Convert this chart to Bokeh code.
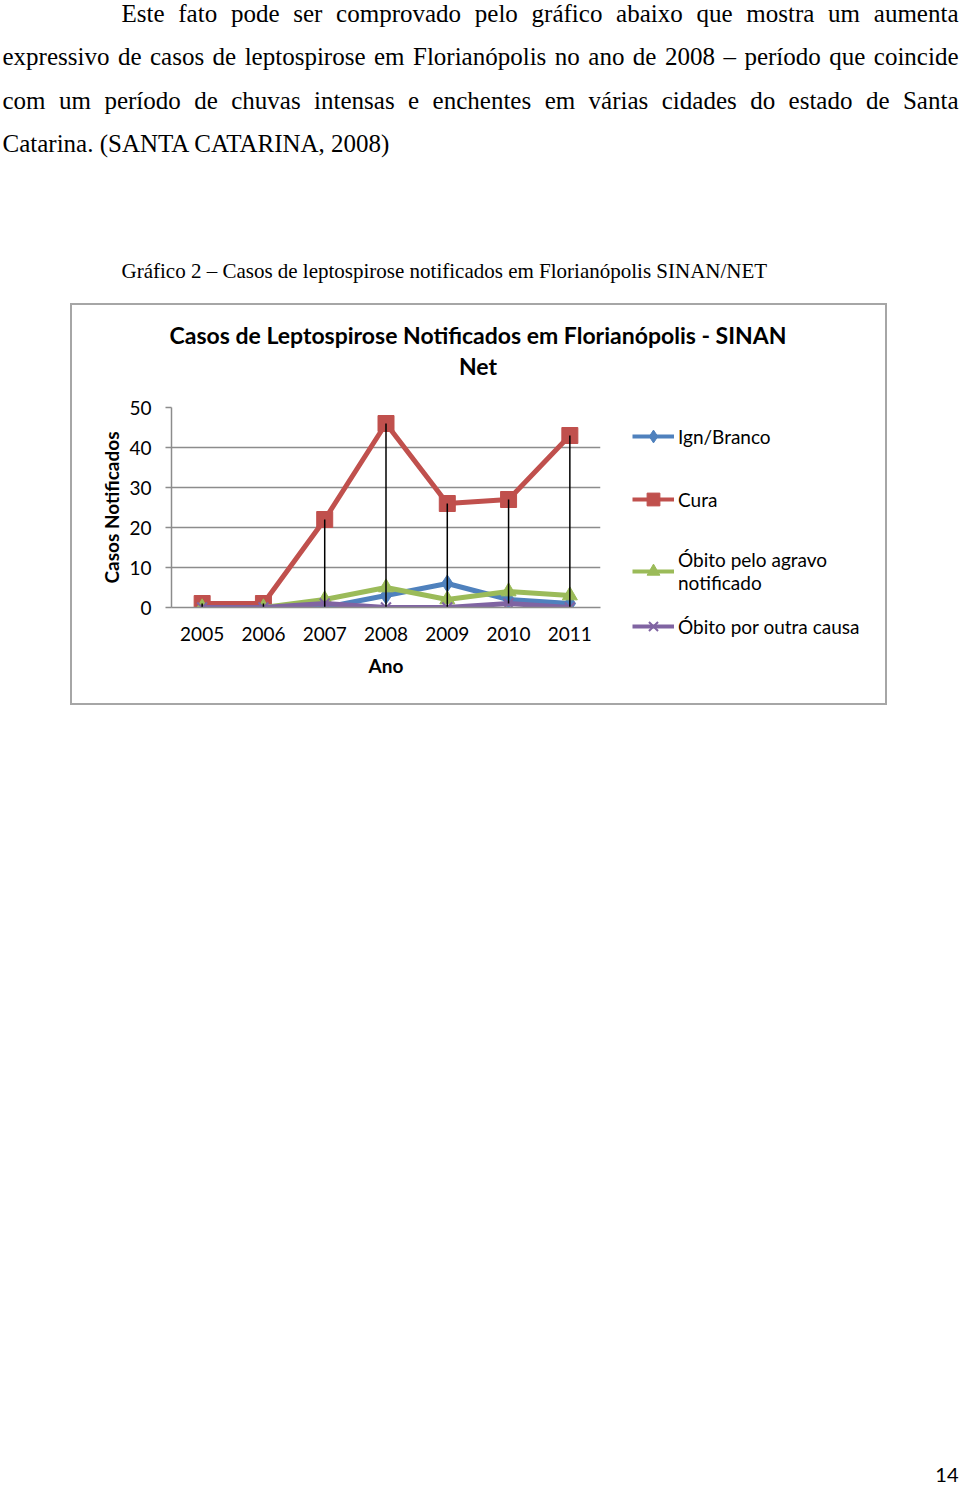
from bokeh.plotting import figure
from bokeh.models import Range1d, FactorRange, Legend, LegendItem, Spacer, FixedTicker
from bokeh.layouts import column, row
from bokeh.core.properties import value
from bokeh.embed import file_html
from bokeh.resources import INLINE

# ---------------- chart data ----------------
years = ["2005", "2006", "2007", "2008", "2009", "2010", "2011"]
ign_branco = [0, 0, 0, 3, 6, 2, 1]
cura = [1, 1, 22, 46, 26, 27, 43]
obito_agravo = [0, 0, 2, 5, 2, 4, 3]
obito_outra = [0, 0, 1, 0, 0, 1, 0]
series_names = ["Ign/Branco", "Cura", "Óbito pelo agravo\nnotificado", "Óbito por outra causa"]
y_ticks = [0, 10, 20, 30, 40, 50]

chart_title = ["Casos de Leptospirose Notificados em Florianópolis - SINAN", "Net"]
y_label = "Casos Notificados"
x_label = "Ano"

# ---------------- page text ----------------
para_lines = [
    "Este fato pode ser comprovado pelo gráfico abaixo que mostra um aumenta",
    "expressivo de casos de leptospirose em Florianópolis no ano de 2008 – período que coincide",
    "com um período de chuvas intensas e enchentes em várias cidades do estado de Santa",
    "Catarina. (SANTA CATARINA, 2008)",
]
caption = "Gráfico 2 – Casos de leptospirose notificados em Florianópolis SINAN/NET"
page_number = "14"

W = 960
TOP_H = 303
BOX_W, BOX_H = 813, 398          # inside the 2px grey border
TITLE_H = 92
CH_W = 538
LEG_W = BOX_W - CH_W
CH_H = BOX_H - TITLE_H
BOT_H = 1487 - TOP_H - (BOX_H + 4)

SERIF = "Liberation Serif"
SANS = "Lato"
BODY_PX = 25

# Times / Liberation Serif advance widths (1/1000 em) used to justify the paragraph
ADV = {" ": 250, "a": 444, "b": 500, "c": 444, "d": 500, "e": 444, "f": 333, "g": 500,
       "h": 500, "i": 278, "j": 278, "k": 500, "l": 278, "m": 778, "n": 500, "o": 500,
       "p": 500, "q": 500, "r": 333, "s": 389, "t": 278, "u": 500, "v": 500, "w": 722,
       "x": 500, "y": 500, "z": 444, "á": 444, "í": 278, "ó": 500, "é": 444,
       "A": 722, "C": 667, "E": 611, "F": 556, "I": 333, "N": 722, "R": 667, "S": 556,
       "T": 611, "0": 500, "2": 500, "8": 500, ".": 250, ",": 250, "(": 333, ")": 333,
       "–": 500}


def word_w(w):
    return sum(ADV.get(ch, 500) for ch in w) * BODY_PX / 1000.0


def blank_fig(w, h, **kw):
    f = figure(width=w, height=h, x_range=Range1d(0, w), y_range=Range1d(h, 0),
               x_axis_type=None, y_axis_type=None, output_backend="svg",
               toolbar_location=None, min_border=0, **kw)
    f.grid.visible = False
    f.outline_line_color = None
    return f


# ---------------- top text block ----------------
top = blank_fig(W, TOP_H)
line_left = [121, 2, 2]
line_right = 958
centers = [13, 56, 100, 143]
words, xs, ys = [], [], []
for ln, x0, yc in zip(para_lines[:3], line_left, centers):
    ws = ln.split(" ")
    widths = [word_w(w) for w in ws]
    gap = (line_right - x0 - sum(widths)) / (len(ws) - 1)   # justified line
    x = x0
    for w, wd in zip(ws, widths):
        words.append(w)
        xs.append(x)
        ys.append(yc)
        x += wd + gap
words.append(para_lines[3])
xs.append(2)
ys.append(centers[3])

top.text(x=xs, y=ys, text=words, text_font=value(SERIF), text_font_size=f"{BODY_PX}px",
         text_baseline="middle", text_align="left", text_color="#000000")
top.text(x=[121], y=[270], text=[caption], text_font=value(SERIF), text_font_size="21px",
         text_baseline="middle", text_align="left", text_color="#000000")

# ---------------- chart title ----------------
title_fig = blank_fig(BOX_W, TITLE_H)
title_fig.text(x=[BOX_W / 2 - 1, BOX_W / 2 - 1], y=[29, 60], text=chart_title,
               text_font=value(SANS), text_font_size="23px", text_font_style="bold",
               text_baseline="middle", text_align="center", text_color="#000000")

# ---------------- chart ----------------
chart = figure(x_range=years, y_range=Range1d(0, 50), width=CH_W, height=CH_H,
               output_backend="svg", toolbar_location=None, title=None,
               min_border_left=99, min_border_right=10, min_border_top=10,
               min_border_bottom=96)
chart.outline_line_color = None
chart.xgrid.visible = False
chart.ygrid.grid_line_color = "#8c8c8c"
chart.ygrid.grid_line_width = 1.5

chart.yaxis.ticker = FixedTicker(ticks=y_ticks)
for ax in (chart.xaxis, chart.yaxis):
    ax.axis_line_color = "#8c8c8c"
    ax.axis_line_width = 1.5
    ax.minor_tick_line_color = None
    ax.major_label_text_font = SANS
    ax.major_label_text_font_size = "19px"
    ax.major_label_text_color = "#000000"
    ax.axis_label_text_font = SANS
    ax.axis_label_text_font_size = "19px"
    ax.axis_label_text_font_style = "bold"
    ax.axis_label_text_color = "#000000"

chart.yaxis.major_tick_line_color = "#8c8c8c"
chart.yaxis.major_tick_line_width = 1.5
chart.yaxis.major_tick_out = 6
chart.yaxis.major_tick_in = 0
chart.yaxis.major_label_standoff = 14
chart.yaxis.axis_label = y_label
chart.yaxis.axis_label_standoff = 3

chart.xaxis.major_tick_line_color = None
chart.xaxis.major_label_standoff = 13
chart.xaxis.axis_label = x_label
chart.xaxis.axis_label_standoff = 10

colors = ["#4F81BD", "#C0504D", "#9BBB59", "#8064A2"]
markers = ["diamond", "square", "triangle", "x"]
sizes = [17, 16, 15, 14]
values = [ign_branco, cura, obito_agravo, obito_outra]

for vals, c, m, s in zip(values, colors, markers, sizes):
    chart.line(years, vals, line_color=c, line_width=5)
    if m == "x":
        chart.scatter(years, vals, marker=m, size=s, line_color=c, line_width=2)
    else:
        chart.scatter(years, vals, marker=m, size=s, fill_color=c, line_color=c)

highs = [max(v) for v in zip(*values)]
lows = [min(v) for v in zip(*values)]
chart.segment(x0=years, y0=lows, x1=years, y1=highs, line_color="black", line_width=1.5)

# ---------------- legend (own panel beside the plot, inside the chart box) ----------------
# the series are re-drawn here only as legend keys; the y window lies above the data
leg_fig = figure(width=LEG_W, height=CH_H, x_range=FactorRange(*years),
                 y_range=Range1d(100, 110), x_axis_type=None, y_axis_type=None,
                 output_backend="svg", toolbar_location=None, min_border=0)
leg_fig.grid.visible = False
leg_fig.outline_line_color = None
items = []
for name, vals, c, m, s in zip(series_names, values, colors, markers, sizes):
    ln = leg_fig.line(years, vals, line_color=c, line_width=4)
    if m == "x":
        sc = leg_fig.scatter(years, vals, marker=m, size=s, line_color=c, line_width=2)
    else:
        sc = leg_fig.scatter(years, vals, marker=m, size=s, fill_color=c, line_color=c)
    items.append(LegendItem(label=name, renderers=[ln, sc]))

leg_style = dict(orientation="vertical", margin=0, padding=0, glyph_width=42,
                 glyph_height=32, label_height=20, label_standoff=4,
                 label_text_font=SANS, label_text_font_size="19px",
                 label_text_color="#000000", border_line_color=None,
                 background_fill_alpha=0)
leg_fig.add_layout(Legend(items=items[:2], location=(22, 188), spacing=31, **leg_style), "center")
leg_fig.add_layout(Legend(items=items[2:], location=(22, 61), spacing=16, **leg_style), "center")

box = column(title_fig, row(chart, column(leg_fig)),
             styles={"border": "2px solid #a6a6a6"})

# ---------------- bottom (page number) ----------------
bottom = blank_fig(W, BOT_H)
bottom.text(x=[958], y=[BOT_H - 13], text=[page_number], text_font=value(SANS),
            text_font_size="20px", text_baseline="middle", text_align="right",
            text_color="#000000")

layout = column(top, row(Spacer(width=70, height=BOX_H + 4), box), bottom)

open("out.html", "w").write(file_html(layout, INLINE))
